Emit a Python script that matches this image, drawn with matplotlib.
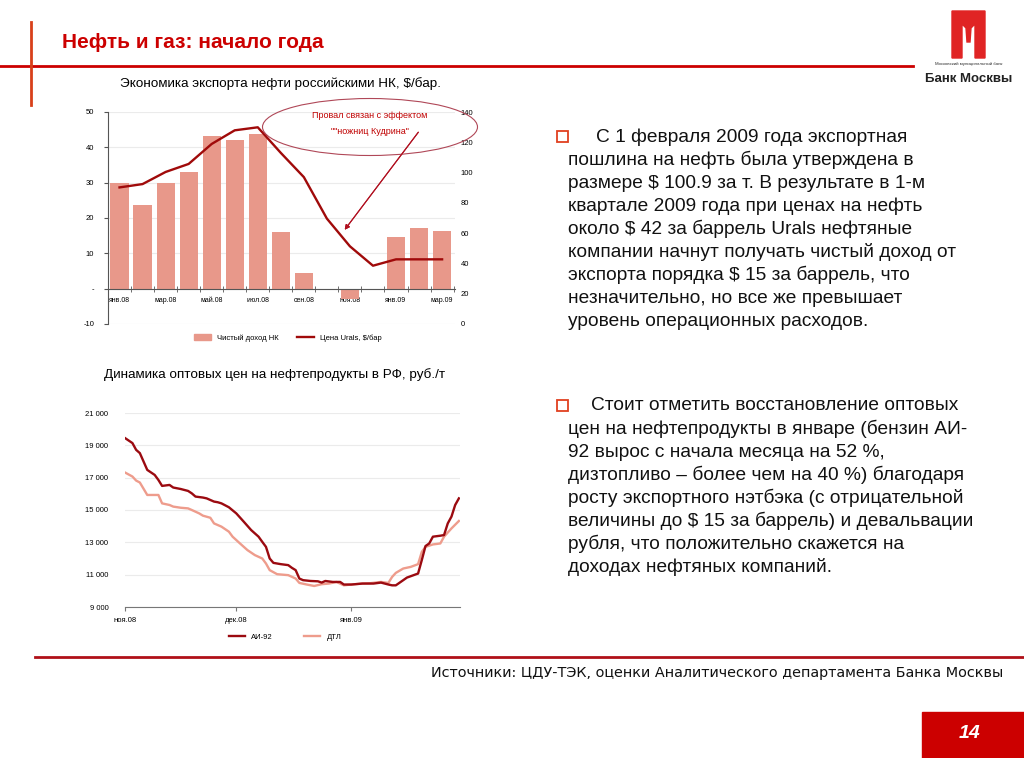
import matplotlib
matplotlib.use("Agg")
from matplotlib import pyplot as plt
from matplotlib.patches import Rectangle, Ellipse, Polygon, Patch
from matplotlib.lines import Line2D
import numpy as np

plt.rcParams['font.family'] = ['Liberation Sans', 'DejaVu Sans']

# chart 1: export economics
months = ['янв.08', 'фев.08', 'мар.08', 'апр.08', 'май.08', 'июн.08', 'июл.08', 'авг.08',
          'сен.08', 'окт.08', 'ноя.08', 'дек.08', 'янв.09', 'фев.09', 'мар.09']
net_income = [29.8, 23.6, 29.8, 33.0, 43.3, 42.1, 43.9, 15.9, 4.3, 0.0, -3.0, 0.0, 14.6, 17.2, 16.2]
urals = [90.2, 92.4, 100.4, 105.7, 118.9, 127.9, 129.9, 113.0, 97.0, 69.6, 51.3, 38.5, 42.7, 42.7, 42.7]

# chart 2: wholesale prices, days since 1 Nov 2008
ai92_day = [0, 2, 3, 4, 6, 8, 9, 10, 12, 13, 15, 17, 18, 19, 21, 22, 24, 25, 26, 28, 30, 32, 34, 36,
            37, 38, 39, 40, 42, 44, 45, 46, 47, 48, 50, 52, 53, 54, 56, 58, 59, 61, 64, 67, 69, 71,
            72, 73, 75, 76, 79, 80, 81, 82, 83, 85, 86, 87, 88, 89, 90]
ai92 = [19450, 19140, 18720, 18520, 17480, 17170, 16860, 16490, 16550, 16390, 16300, 16180, 16030,
        15830, 15770, 15720, 15520, 15480, 15410, 15170, 14790, 14280, 13760, 13350, 13030, 12720,
        12000, 11730, 11650, 11590, 11420, 11280, 10760, 10660, 10610, 10590, 10510, 10610, 10550,
        10550, 10390, 10390, 10450, 10450, 10510, 10390, 10340, 10340, 10660, 10820, 11070, 11900,
        12770, 12930, 13350, 13410, 13450, 14170, 14590, 15310, 15720]
dtl_day = [0, 2, 3, 4, 6, 8, 9, 10, 12, 13, 15, 17, 18, 20, 21, 23, 24, 26, 28, 29, 31, 33, 35, 37,
           38, 39, 41, 42, 44, 46, 47, 49, 51, 53, 55, 57, 59, 61, 64, 66, 69, 71, 72, 73, 75, 77,
           79, 80, 81, 83, 85, 86, 88, 90]
dtl = [17320, 17070, 16820, 16700, 15930, 15930, 15930, 15410, 15310, 15210, 15140, 15100, 15000,
       14790, 14650, 14520, 14170, 13970, 13660, 13350, 12930, 12520, 12210, 12000, 11690, 11280,
       11030, 11010, 10970, 10760, 10490, 10390, 10300, 10410, 10450, 10550, 10340, 10390, 10450,
       10470, 10550, 10490, 10860, 11110, 11380, 11480, 11650, 12410, 12720, 12870, 12930, 13350,
       13860, 14320]
month_ticks = [0, 30, 61]
month_labels = ['ноя.08', 'дек.08', 'янв.09']

text1 = ['С 1 февраля 2009 года экспортная',
         'пошлина на нефть была утверждена в',
         'размере $ 100.9 за т. В результате в 1-м',
         'квартале 2009 года при ценах на нефть',
         'около $ 42 за баррель Urals нефтяные',
         'компании начнут получать чистый доход от',
         'экспорта порядка $ 15 за баррель, что',
         'незначительно, но все же превышает',
         'уровень операционных расходов.']
text2 = ['Стоит отметить восстановление оптовых',
         'цен на нефтепродукты в январе (бензин АИ-',
         '92 вырос с начала месяца на 52 %,',
         'дизтопливо – более чем на 40 %) благодаря',
         'росту экспортного нэтбэка (с отрицательной',
         'величины до $ 15 за баррель) и девальвации',
         'рубля, что положительно скажется на',
         'доходах нефтяных компаний.']

W, H = 1024, 758
BAR = '#E8988A'
DARK = '#A00A0A'
RED = '#CC0000'


def fx(x):
    return x / W


def fy(y):
    return 1 - y / H


def rect(l, t, r, b):
    return [fx(l), fy(b), fx(r) - fx(l), fy(t) - fy(b)]


fig = plt.figure(figsize=(10.24, 7.58), dpi=100)

# header
fig.add_artist(Line2D([0, fx(913)], [fy(66), fy(66)], color=RED, lw=2))
fig.add_artist(Line2D([fx(31), fx(31)], [fy(22), fy(105)], color='#D8401A', lw=2))
fig.text(fx(62), fy(42), 'Нефть и газ: начало года', color=RED, fontsize=15, fontweight='bold',
         va='center', ha='left')

# logo
m = [(952, 11), (985, 11), (985, 58), (975, 58), (975, 24), (971, 28), (970, 42), (967, 42),
     (966, 28), (962, 24), (962, 58), (952, 58)]
fig.add_artist(Polygon([(fx(a), fy(b)) for a, b in m], closed=True, color='#E02424',
                       transform=fig.transFigure))
fig.text(fx(969), fy(64), 'Московский муниципальный банк', fontsize=3.2, ha='center', va='center',
         color='#333333')
fig.text(fx(969), fy(79), 'Банк Москвы', fontsize=9.5, fontweight='bold', ha='center', va='center',
         color='#222222')

# chart 1
fig.text(fx(280), fy(84), 'Экономика экспорта нефти российскими НК, $/бар.', fontsize=9.7,
         ha='center', va='center')
ax = fig.add_axes(rect(108, 112, 455, 324))
x = np.arange(len(months))
ax.bar(x, net_income, width=0.79, color=BAR, zorder=2)
ax.set_xlim(-0.48, 14.56)
ax.set_ylim(-10, 50)
ax.set_yticks([-10, 0, 10, 20, 30, 40, 50])
ax.set_yticklabels(['-10', '-', '10', '20', '30', '40', '50'])
ax.yaxis.grid(True, color='#EBEBEB', lw=0.8, zorder=0)
ax.spines['bottom'].set_position(('data', 0))
for s in ['top', 'right']:
    ax.spines[s].set_visible(False)
ax.spines['left'].set_color('#555555')
ax.spines['bottom'].set_color('#555555')
ax.tick_params(axis='y', labelsize=5.5, length=3, color='#555555', pad=7)
ax.set_xticks(x[::2])
ax.set_xticklabels(months[::2])
ax.set_xticks(np.arange(-0.5, 15, 1), minor=True)
ax.tick_params(axis='x', which='major', length=0, labelsize=5, pad=6)
ax.tick_params(axis='x', which='minor', length=4, direction='inout', color='#555555')
ax2 = ax.twinx()
ax2.plot(x, urals, color=DARK, lw=1.7, zorder=3)
ax2.set_ylim(0, 140)
ax2.set_yticks(np.arange(0, 141, 20))
for s in ax2.spines.values():
    s.set_visible(False)
ax2.tick_params(axis='y', labelsize=5.5, length=0, pad=4)

fig.legend(handles=[Patch(color=BAR, label='Чистый доход НК'),
                    Line2D([], [], color=DARK, lw=1.7, label='Цена Urals, $/бар')],
           loc='center', bbox_to_anchor=(fx(288), fy(338)), ncol=2, frameon=False, fontsize=5.5,
           handlelength=2.2, handleheight=0.7, columnspacing=2.5)

# annotation
fig.add_artist(Ellipse((fx(370), fy(127)), fx(215), 57 / H, fill=False, ec='#B04858', lw=0.8,
                       transform=fig.transFigure))
fig.text(fx(370), fy(115), 'Провал связан с эффектом', color='#C00000', fontsize=6.5,
         ha='center', va='center')
fig.text(fx(370), fy(131), '""ножниц Кудрина"', color='#C00000', fontsize=6.5,
         ha='center', va='center')
fig.add_artist(plt.annotate('', xy=(fx(343), fy(232)), xytext=(fx(420), fy(130)),
                            xycoords='figure fraction',
                            arrowprops=dict(arrowstyle='-|>', color='#B01020', lw=0.8,
                                            mutation_scale=7)))

# chart 2
fig.text(fx(275), fy(375), 'Динамика оптовых цен на нефтепродукты в РФ, руб./т', fontsize=9.7,
         ha='center', va='center')
bx = fig.add_axes(rect(125, 413, 460, 607))
bx.plot(dtl_day, dtl, color='#EE9C8C', lw=1.7)
bx.plot(ai92_day, ai92, color='#9B0A10', lw=1.7)
bx.set_xlim(0, 90.3)
bx.set_ylim(9000, 21000)
bx.set_yticks(np.arange(9000, 21001, 2000))
bx.set_yticklabels([f'{v:,}'.replace(',', ' ') for v in range(9000, 21001, 2000)])
bx.yaxis.grid(True, color='#EBEBEB', lw=0.8)
for s in ['top', 'right', 'left']:
    bx.spines[s].set_visible(False)
bx.spines['bottom'].set_color('#777777')
bx.set_xticks(month_ticks)
bx.set_xticklabels(month_labels)
bx.tick_params(axis='x', labelsize=5.5, length=3, color='#777777', pad=4)
bx.tick_params(axis='y', labelsize=5.5, length=0, pad=12)
fig.legend(handles=[Line2D([], [], color='#9B0A10', lw=1.7, label='АИ-92'),
                    Line2D([], [], color='#EE9C8C', lw=1.7, label='ДТЛ')],
           loc='center', bbox_to_anchor=(fx(285), fy(637)), ncol=2, frameon=False, fontsize=5.5,
           handlelength=2.2, columnspacing=4)

# right text blocks
for y0, lines, first_x in [(137, text1, 596), (406, text2, 591)]:
    fig.add_artist(Rectangle((fx(557), fy(y0 + 5)), fx(11), 11 / H, fill=False, ec='#E04020',
                             lw=1.3, transform=fig.transFigure))
    for i, line in enumerate(lines):
        fig.text(fx(first_x if i == 0 else 568), fy(y0 + i * 23.05), line, fontsize=13.8,
                 ha='left', va='center', color='#111111')

# footer
fig.add_artist(Line2D([fx(35), 1], [fy(657), fy(657)], color='#B01018', lw=2))
fig.text(fx(1003), fy(673), 'Источники: ЦДУ-ТЭК, оценки Аналитического департамента Банка Москвы',
         family='DejaVu Sans', fontsize=10.4, ha='right', va='center', color='#111111')
fig.add_artist(Rectangle((fx(922), 0), fx(102), 46 / H, color=RED, transform=fig.transFigure))
fig.text(fx(970), fy(733), '14', color='white', fontsize=14, fontweight='bold', style='italic',
         ha='center', va='center')

fig.savefig('out.png', dpi=100)
